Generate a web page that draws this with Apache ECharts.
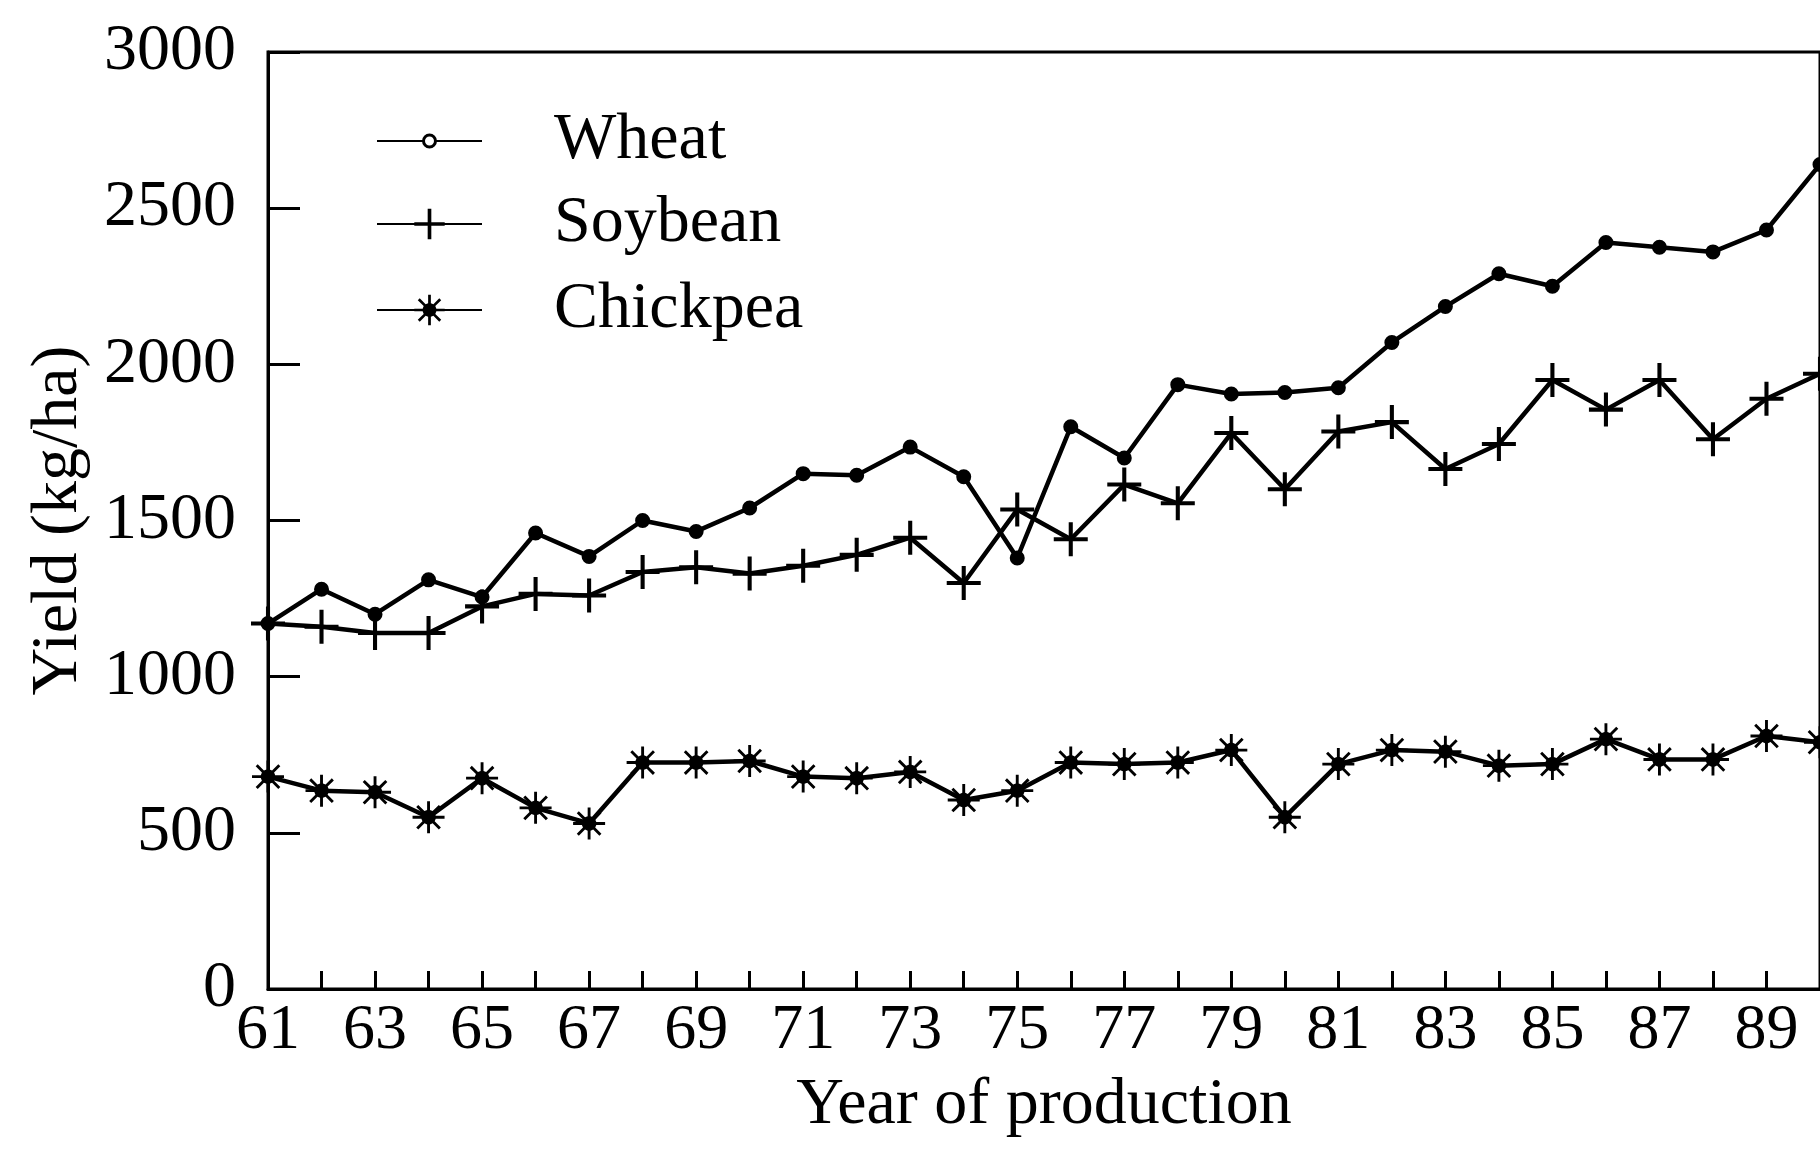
<!DOCTYPE html>
<html>
<head>
<meta charset="utf-8">
<title>Yield by year of production</title>
<script src="https://cdn.jsdelivr.net/npm/echarts@6/dist/echarts.min.js"></script>
<style>
  html, body { margin: 0; padding: 0; background: #fff; }
  #chart { width: 1820px; height: 1161px; }
</style>
</head>
<body>
<div id="chart"></div>
<script>
// years of production (19xx), labels shown every second year
const years = ['61', '62', '63', '64', '65', '66', '67', '68', '69', '70',
  '71', '72', '73', '74', '75', '76', '77', '78', '79', '80',
  '81', '82', '83', '84', '85', '86', '87', '88', '89', '90'];

// yield in kg/ha
const wheat = [1170, 1280, 1200, 1310, 1255, 1460, 1385, 1500, 1465, 1540,
  1650, 1645, 1735, 1640, 1380, 1800, 1700, 1935, 1905, 1910,
  1925, 2070, 2185, 2290, 2250, 2390, 2375, 2360, 2430, 2640];
const soybean = [1170, 1160, 1140, 1140, 1225, 1265, 1260, 1335, 1350, 1330,
  1355, 1390, 1445, 1300, 1535, 1440, 1615, 1555, 1780, 1600,
  1785, 1815, 1665, 1745, 1950, 1855, 1950, 1760, 1890, 1970];
const chickpea = [680, 635, 630, 550, 675, 580, 530, 725, 725, 730,
  680, 675, 695, 605, 635, 725, 720, 725, 765, 550,
  720, 765, 760, 715, 720, 800, 735, 735, 810, 790];

const yMin = 0;
const yMax = 3000;
const yStep = 500;

const font = 'Liberation Serif';

// marker shapes
const plusPath = 'path://M-1,-0.12L-0.12,-0.12L-0.12,-1L0.12,-1L0.12,-0.12L1,-0.12L1,0.12L0.12,0.12L0.12,1L-0.12,1L-0.12,0.12L-1,0.12Z';

function asteriskPath() {
  var pts = [];
  var rIn = 0.45, w = 0.09;
  for (var k = 0; k < 8; k++) {
    var t = k * Math.PI / 4;
    var ux = Math.cos(t), uy = Math.sin(t);
    var px = -uy, py = ux;
    pts.push([rIn * ux - w * px, rIn * uy - w * py]);
    pts.push([ux - w * px, uy - w * py]);
    pts.push([ux + w * px, uy + w * py]);
    pts.push([rIn * ux + w * px, rIn * uy + w * py]);
  }
  return 'path://' + pts.map(function (p, i) {
    return (i ? 'L' : 'M') + p[0].toFixed(3) + ',' + p[1].toFixed(3);
  }).join('') + 'Z';
}

function legendFor(name, top, iconHeight, itemStyle) {
  var lg = {
    data: [name],
    orient: 'vertical',
    left: 371,
    top: top,
    itemWidth: 105,
    itemHeight: iconHeight,
    selectedMode: false,
    textStyle: {
      fontFamily: font,
      fontSize: 66,
      lineHeight: 66,
      color: '#000',
      padding: [0, 0, 0, 67]
    }
  };
  if (itemStyle) lg.itemStyle = itemStyle;
  return lg;
}

var myChart = echarts.init(document.getElementById('chart'));
var option = {
  backgroundColor: '#fff',
  animation: false,
  grid: {
    left: 268,
    right: 0,
    top: 52,
    bottom: 172,
    show: true,
    borderColor: '#000',
    borderWidth: 3,
    outerBoundsMode: 'none'
  },
  legend: [
    legendFor('Wheat', 103, 15, { color: '#fff', borderColor: '#000', borderWidth: 3 }),
    legendFor('Soybean', 186, 38),
    legendFor('Chickpea', 272, 38)
  ],
  xAxis: {
    type: 'category',
    data: years,
    boundaryGap: false,
    name: 'Year of production',
    nameLocation: 'middle',
    nameGap: 84,
    nameTextStyle: { fontFamily: font, fontSize: 66, color: '#000' },
    axisLine: { lineStyle: { color: '#000', width: 3 } },
    axisTick: { inside: true, length: 18, interval: 0, lineStyle: { color: '#000', width: 3 } },
    axisLabel: {
      interval: 1,
      margin: 10,
      fontFamily: font,
      fontSize: 64,
      color: '#000'
    },
    splitLine: { show: false }
  },
  yAxis: {
    type: 'value',
    min: yMin,
    max: yMax,
    interval: yStep,
    name: 'Yield (kg/ha)',
    nameLocation: 'middle',
    nameGap: 176,
    nameTextStyle: { fontFamily: font, fontSize: 66, color: '#000' },
    axisLine: { show: true, lineStyle: { color: '#000', width: 3 } },
    axisTick: { show: true, inside: true, length: 32, lineStyle: { color: '#000', width: 3 } },
    axisLabel: {
      margin: 32,
      fontFamily: font,
      fontSize: 66,
      color: '#000',
      formatter: function (v) { return String(v); }
    },
    splitLine: { show: false }
  },
  series: [
    {
      name: 'Wheat',
      type: 'line',
      data: wheat,
      symbol: 'circle',
      symbolSize: 12,
      lineStyle: { color: '#000', width: 4.5 },
      itemStyle: { color: '#000', borderColor: '#000', borderWidth: 3 }
    },
    {
      name: 'Soybean',
      type: 'line',
      data: soybean,
      symbol: plusPath,
      symbolSize: 34,
      lineStyle: { color: '#000', width: 4.5 },
      itemStyle: { color: '#000', borderWidth: 0 }
    },
    {
      name: 'Chickpea',
      type: 'line',
      data: chickpea,
      symbol: asteriskPath(),
      symbolSize: 32,
      lineStyle: { color: '#000', width: 4.5 },
      itemStyle: { color: '#000', borderWidth: 0 }
    }
  ]
};
option && myChart.setOption(option);
</script>
</body>
</html>
